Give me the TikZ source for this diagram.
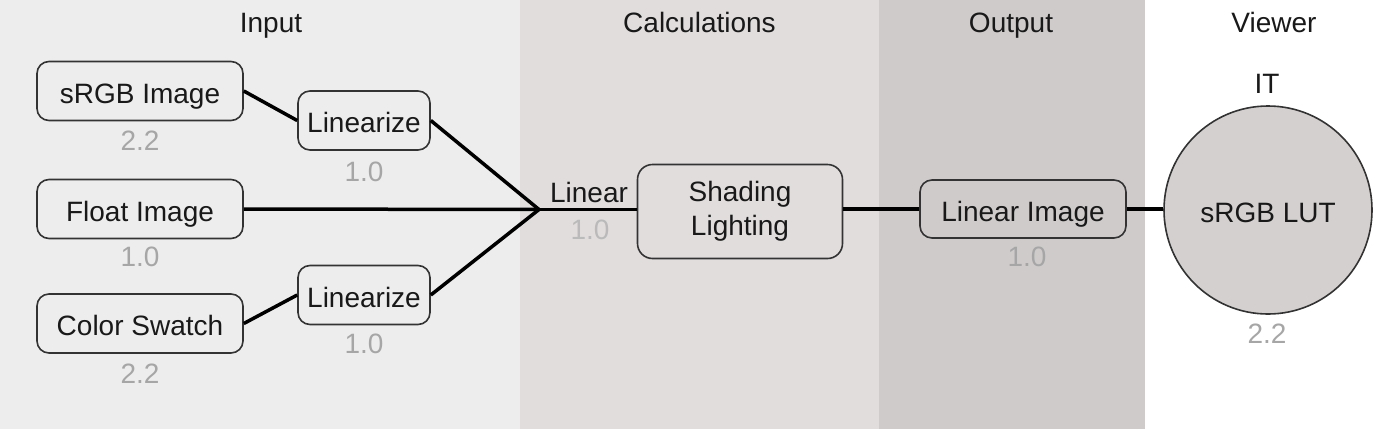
\documentclass[tikz,border=0pt]{standalone}
\usepackage{fontspec}
\setmainfont{Liberation Sans}
\begin{document}
\begin{tikzpicture}[x=1pt,y=-1pt,
  every node/.style={font=\fontsize{28pt}{34pt}\selectfont, text=black!90, text height=20pt, text depth=0pt},
  box/.style={draw=black!80, line width=1.6pt, rounded corners=12pt, inner sep=0pt, minimum height=59pt, text height=30pt, text depth=6pt},
  lbl/.style={text=black!35},
  conn/.style={draw=black, line width=3.5pt},
  title/.style={}]
\useasboundingbox (0,0) rectangle (1389,429);
% bands
\fill[black!7] (0,0) rectangle (520,429);
\fill[fill={rgb,255:red,225;green,221;blue,221}] (520,0) rectangle (879,429);
\fill[fill={rgb,255:red,207;green,203;blue,203}] (879,0) rectangle (1145,429);
\fill[white] (1145,0) rectangle (1389,429);
% titles
\node[title] (tin) at (271,22) {Input};
\node[title] (tcalc) at (699.5,22) {Calculations};
\node[title] (tout) at (1011,22) {Output};
\node[title] (tview) at (1274,22) {Viewer};
% input nodes
\node[box, minimum width=206pt] (srgb) at (140,91) {sRGB Image};
\node[lbl] (srgbl) at (140,140.5) {2.2};
\node[box, minimum width=206pt] (float) at (140,209) {Float Image};
\node[lbl] (floatl) at (140,256) {1.0};
\node[box, minimum width=206pt] (swatch) at (140,323.5) {Color Swatch};
\node[lbl] (swatchl) at (140,373) {2.2};
\node[box, minimum width=132pt] (lina) at (364,120.5) {Linearize};
\node[lbl] (linal) at (364,171) {1.0};
\node[box, minimum width=132pt] (linb) at (364,295) {Linearize};
\node[lbl] (linbl) at (364,343) {1.0};
\coordinate (j) at (539,209.5);
% calculations
\node (linear) at (589,192) {Linear};
\node[lbl, text=black!27] (linearl) at (590,229) {1.0};
\node[box, minimum width=205pt, minimum height=94pt, rounded corners=15pt, align=center, text height={}, text depth={}] (shade) at (740,211.5) {Shading\\Lighting};
% output
\node[box, minimum width=206pt, minimum height=58pt] (limg) at (1023,209) {Linear Image};
\node[lbl] (limgl) at (1027,256) {1.0};
% viewer
\node (it) at (1267,83) {IT};
\node[circle, draw=black!80, line width=1.6pt, fill={rgb,255:red,212;green,208;blue,208}, minimum size=208pt, inner sep=0pt, text height=30pt, text depth=6pt] (lut) at (1268,210) {sRGB LUT};
\node[lbl] (lutl) at (1267,333) {2.2};
% connectors
\draw[conn] (srgb.east) -- (lina.west);
\draw[conn] (swatch.east) -- (linb.west);
\draw[conn] (lina.east) -- (j);
\draw[conn] (linb.east) -- (j);
\draw[conn] (float.east) -- (j);
\draw[conn] (j) -- (j -| shade.west);
\draw[conn] (shade.east |- limg.west) -- (limg.west);
\draw[conn] (limg.east) -- (limg.east -| lut.west);
\end{tikzpicture}
\end{document}
